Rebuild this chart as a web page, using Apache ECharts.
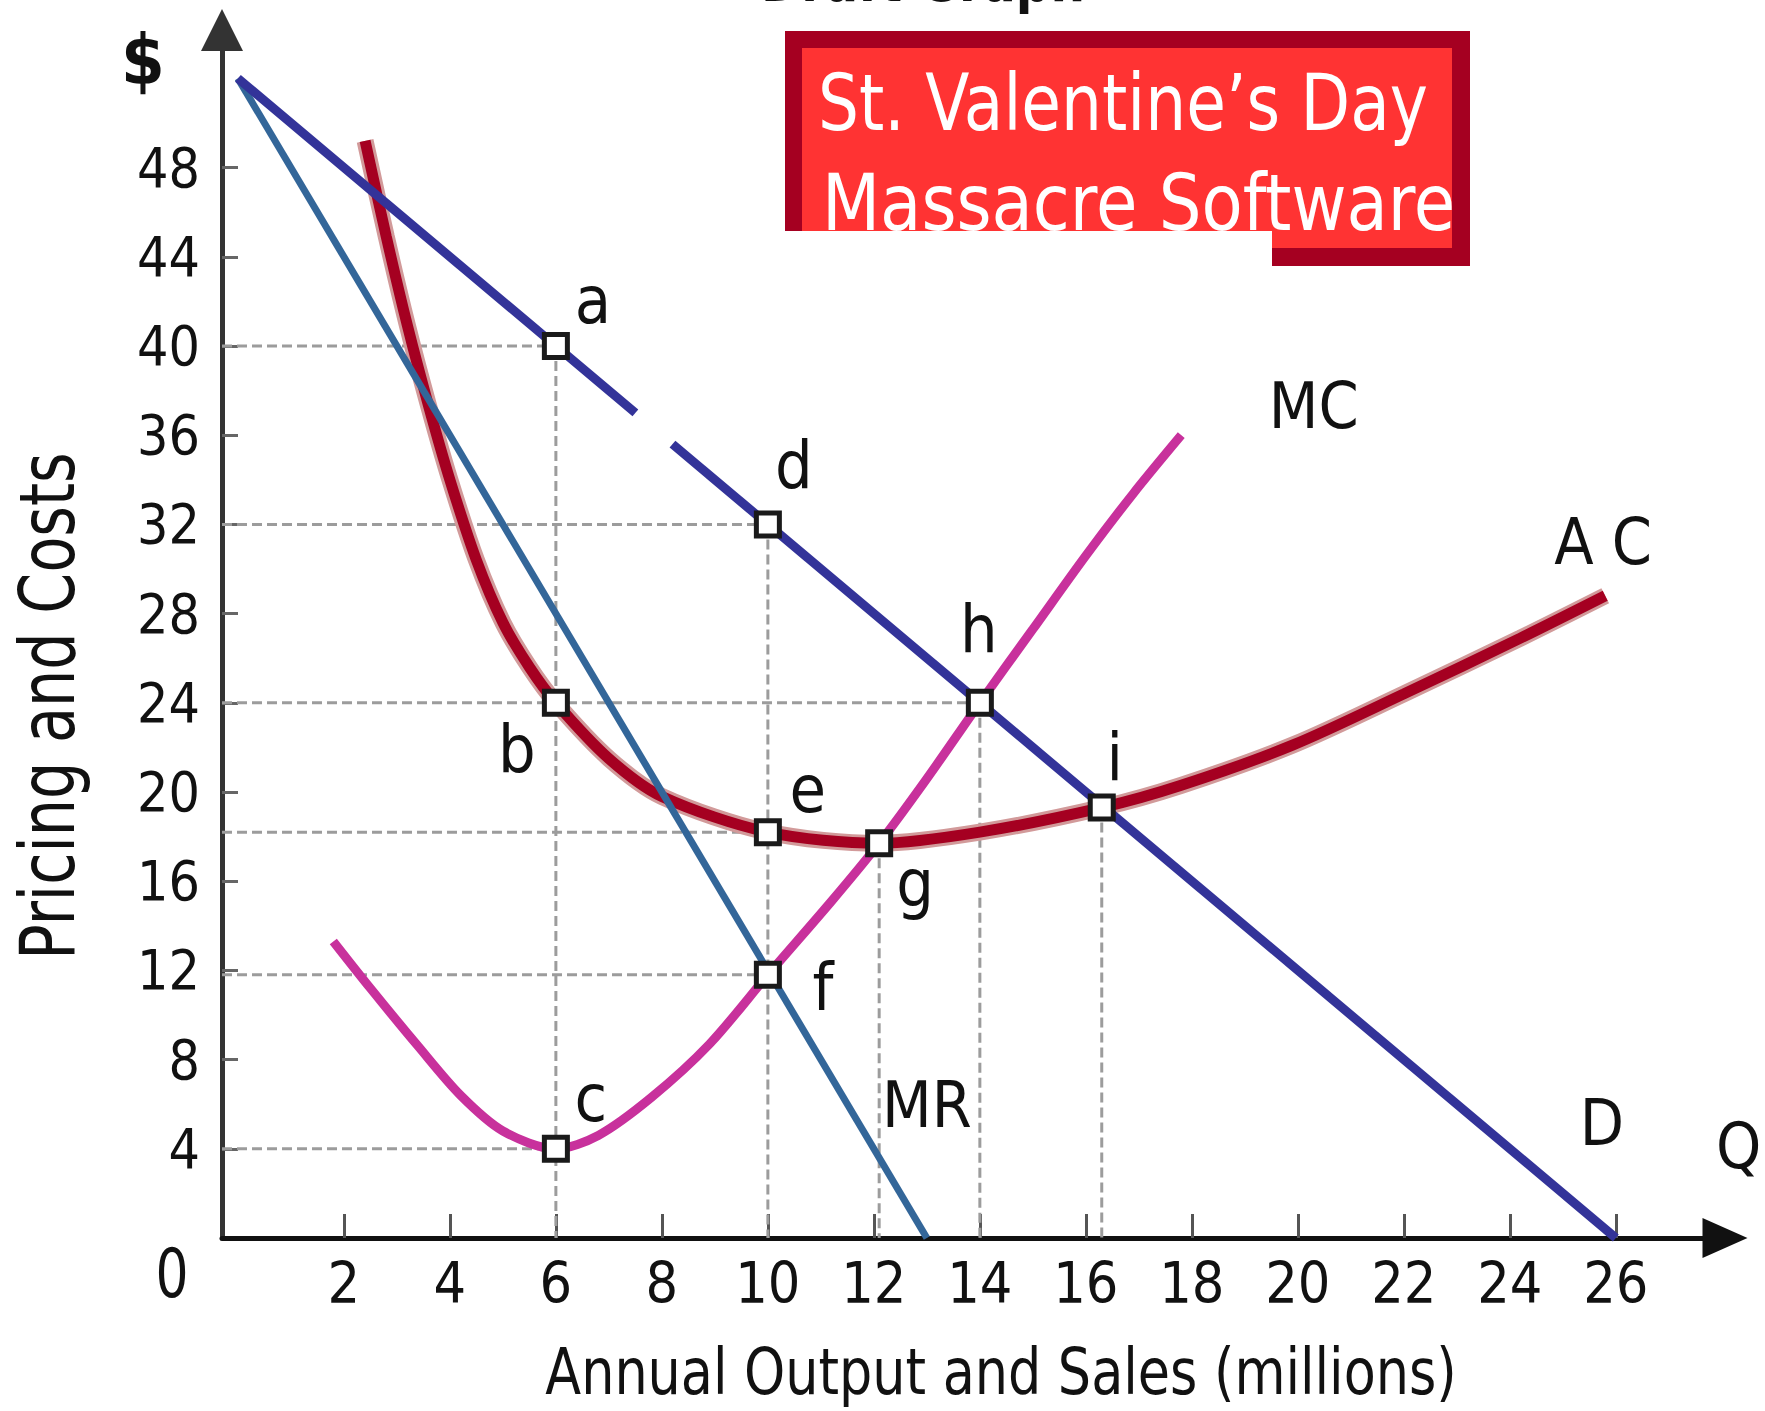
<!DOCTYPE html>
<html><head><meta charset="utf-8">
<script src="https://cdn.jsdelivr.net/npm/echarts@6.0.0/dist/echarts.min.js"></script>
<style>html,body{margin:0;padding:0;background:#fff}#c{width:1765px;height:1411px}</style>
</head><body><div id="c"></div>
<script>
// ---- data ----
const demandA = [[0, 52], [7.5, 37]];
const demandB = [[8.2, 35.6], [26, 0]];
const marginalRevenue = [[0, 52], [13, 0]];
const marginalCost = [[1.8,13.3],[2.5,11.2],[3.4,8.6],[4.2,6.4],[5,4.8],[6,4],[6.8,4.6],[7.8,6.3],[8.9,8.7],[10,11.8],[11.2,15.1],[12.1,17.7],[13,20.6],[14,24],[15,27.3],[16,30.6],[16.9,33.4],[17.8,36]];
const averageCost = [[2.4,49.2],[2.8,44.9],[3.2,40.9],[3.6,37.3],[4,34],[4.5,30.4],[5,27.6],[5.5,25.6],[6,24],[7,21.5],[8,19.8],[10,18.2],[12.1,17.7],[14,18.2],[16.3,19.3],[17.8,20.3],[19.9,22.1],[22,24.4],[24.2,26.9],[25.8,28.8]];
const pointNames = ['a','d','b','e','g','f','c','h','i'];
const pointQ = [6, 10, 6, 10, 12.1, 10, 6, 14, 16.3];
const pointP = [40, 32, 24, 18.2, 17.7, 11.8, 4, 24, 19.3];
const hGuideTo = ['a','d','h','e','f','c'];
const vGuideFrom = ['a','d','g','h','i'];
const xTicks = [2,4,6,8,10,12,14,16,18,20,22,24,26];
const yTicks = [4,8,12,16,20,24,28,32,36,40,44,48];
const curveNames = ['MC','A C','MR','D','Q'];
const curveLabelQ = [20.3, 25.76, 13.0, 25.74, 28.32];
const curveLabelP = [37.3, 31.2, 5.96, 5.15, 4.13];

// ---- styling ----
const NARROW = '"DejaVu Sans Condensed", "Liberation Sans Narrow", "Liberation Sans", sans-serif';
const labelOffsets = {a:[37,-45], d:[26,-59], b:[-39,47], e:[40,-43], g:[36,40], f:[55,13], c:[35,-50], h:[-1,-73], i:[13,-50]};
const X_MIN = -0.3, X_MAX = 28.06, Y_MIN = 0, Y_MAX = 54.17;

const chart = echarts.init(document.getElementById('c'), null, {renderer: 'svg'});
const pts = {};
pointNames.forEach((n, k) => { pts[n] = [pointQ[k], pointP[k]]; });

const guideStyle = {color: '#9c9c9c', width: 3, type: [10, 5]};
const guideSeries = [];
hGuideTo.forEach(n => guideSeries.push({type:'line', silent:true, symbol:'none', z:1,
  lineStyle: guideStyle, data: [[X_MIN, pts[n][1]], pts[n]]}));
vGuideFrom.forEach(n => guideSeries.push({type:'line', silent:true, symbol:'none', z:1,
  lineStyle: guideStyle, data: [pts[n], [pts[n][0], 0]]}));

const lineBase = {type:'line', silent:true, symbol:'none', animation:false};

chart.setOption({
  animation: false,
  grid: {left: 222, right: 40, top: 30, bottom: 173, containLabel: false},
  xAxis: {
    type: 'value', min: X_MIN, max: X_MAX,
    axisLine: {show: true, onZero: false, symbol: ['none','triangle'], symbolSize: [40, 45],
      lineStyle: {color: '#111', width: 5}},
    axisTick: {show: true, inside: true, length: 24, customValues: xTicks, lineStyle: {color: '#555', width: 3}},
    axisLabel: {show: true, customValues: xTicks, fontSize: 57, fontFamily: NARROW, color: '#111', margin: 16},
    splitLine: {show: false}
  },
  yAxis: {
    type: 'value', min: Y_MIN, max: Y_MAX,
    axisLine: {show: true, onZero: false, symbol: ['none','triangle'], symbolSize: [42, 42],
      lineStyle: {color: '#333', width: 5}},
    axisTick: {show: true, inside: true, length: 16, customValues: yTicks, lineStyle: {color: '#666', width: 3}},
    axisLabel: {show: true, customValues: yTicks, fontSize: 55, fontFamily: NARROW, color: '#111', margin: 22},
    splitLine: {show: false}
  },
  series: [
    ...guideSeries,
    Object.assign({}, lineBase, {z: 2, smooth: 0.3, data: averageCost, lineStyle: {color: '#d29a9a', width: 17}}),
    Object.assign({}, lineBase, {z: 3, smooth: 0.3, data: averageCost, lineStyle: {color: '#a50021', width: 11}}),
    Object.assign({}, lineBase, {z: 4, smooth: 0.3, data: marginalCost, lineStyle: {color: '#c8319c', width: 9}}),
    Object.assign({}, lineBase, {z: 5, data: marginalRevenue, lineStyle: {color: '#336699', width: 7}}),
    Object.assign({}, lineBase, {z: 6, data: demandA, lineStyle: {color: '#333399', width: 9}}),
    Object.assign({}, lineBase, {z: 6, data: demandB, lineStyle: {color: '#333399', width: 9}}),
    {
      type: 'scatter', silent: true, z: 10, symbol: 'rect', symbolSize: 23, clip: false,
      itemStyle: {color: '#fff', borderColor: '#1a1a1a', borderWidth: 5, opacity: 1},
      data: pointNames.map(n => ({name: n, value: pts[n],
        label: {show: true, position: 'inside', offset: labelOffsets[n], formatter: n,
          fontSize: 66, fontFamily: NARROW, color: '#111'}}))
    },
    {
      type: 'scatter', silent: true, z: 10, symbolSize: 1, clip: false,
      itemStyle: {color: 'rgba(0,0,0,0)', opacity: 1},
      data: curveNames.map((n, k) => ({name: n, value: [curveLabelQ[k], curveLabelP[k]],
        label: {show: true, position: 'inside', formatter: n, fontSize: 64, fontFamily: NARROW,
          color: '#111', opacity: 1, textBorderWidth: 0}}))
    }
  ],
  graphic: [
    {type: 'text', z: 19, x: 923, y: 10, scaleX: 0.9, style: {text: 'Draft Graph', x: 0, y: 0, font: 'bold 60px ' + NARROW, fill: '#111', textAlign: 'center', textVerticalAlign: 'bottom'}},
    {type: 'rect', shape: {x: 785, y: 31, width: 685, height: 235}, style: {fill: '#a50021'}, z: 20},
    {type: 'rect', shape: {x: 802, y: 48, width: 650, height: 200}, style: {fill: '#ff3333'}, z: 21},
    {type: 'rect', shape: {x: 780, y: 231, width: 492, height: 40}, style: {fill: '#ffffff'}, z: 22},
    {type: 'text', z: 23, x: 818, y: 103, scaleX: 0.92, style: {text: 'St. Valentine\u2019s Day', x: 0, y: 0, font: '78px ' + NARROW, fill: '#fff', textAlign: 'left', textVerticalAlign: 'middle'}},
    {type: 'text', z: 23, x: 822, y: 203, scaleX: 0.96, style: {text: 'Massacre Software', x: 0, y: 0, font: '78px ' + NARROW, fill: '#fff', textAlign: 'left', textVerticalAlign: 'middle'}},
    {type: 'text', z: 23, style: {text: '$', x: 143, y: 60, font: 'bold 70px ' + NARROW, fill: '#111', textAlign: 'center', textVerticalAlign: 'middle'}},
    {type: 'text', z: 23, x: 172, y: 1273, scaleX: 0.85, style: {text: '0', x: 0, y: 0, font: '68px ' + NARROW, fill: '#111', textAlign: 'center', textVerticalAlign: 'middle'}},
    {type: 'text', z: 23, x: 1001, y: 1372, scaleX: 0.91, style: {text: 'Annual Output and Sales (millions)', x: 0, y: 0, font: '64px ' + NARROW, fill: '#111', textAlign: 'center', textVerticalAlign: 'middle'}},
    {type: 'text', z: 23, x: 48, y: 706, rotation: Math.PI / 2, scaleX: 0.86, style: {text: 'Pricing and Costs', x: 0, y: 0, font: '76px ' + NARROW, fill: '#111', textAlign: 'center', textVerticalAlign: 'middle'}}
  ]
});
</script></body></html>
